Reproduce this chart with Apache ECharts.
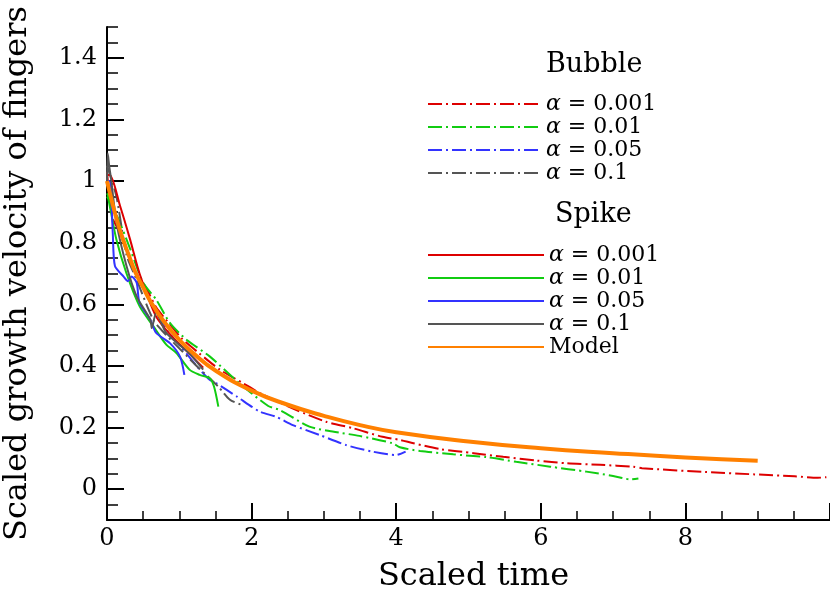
<!DOCTYPE html>
<html>
<head>
<meta charset="utf-8">
<script src="https://cdn.jsdelivr.net/npm/echarts@6/dist/echarts.min.js"></script>
<style>html,body{margin:0;padding:0;background:#fff}#c{width:830px;height:596px}</style>
</head>
<body>
<div id="c"></div>
<script>
// ---- data ----
const xTickLabels = ['0', '2', '4', '6', '8'];
const yTickLabels = ['0', '0.2', '0.4', '0.6', '0.8', '1', '1.2', '1.4'];
const bubbleNames = ['Bubble α = 0.001', 'Bubble α = 0.01', 'Bubble α = 0.05', 'Bubble α = 0.1'];
const spikeNames = ['Spike α = 0.001', 'Spike α = 0.01', 'Spike α = 0.05', 'Spike α = 0.1', 'Model'];

const bubble001 = [[0,1.03],[0.08,0.88],[0.23,0.81],[0.36,0.72],[0.55,0.65],[0.68,0.59],[0.87,0.535],[1.03,0.49],[1.28,0.44],[1.56,0.388],[1.88,0.344],[2.13,0.31],[2.62,0.257],[3.03,0.219],[3.40,0.198],[3.81,0.17],[4.05,0.16],[4.24,0.149],[4.61,0.13],[5.07,0.117],[5.48,0.105],[5.94,0.093],[6.36,0.084],[6.82,0.079],[7.28,0.073],[7.40,0.068],[8.27,0.056],[8.96,0.048],[9.51,0.042],[9.83,0.037],[9.95,0.039]];
const bubble01 = [[0,0.96],[0.17,0.87],[0.32,0.78],[0.5,0.67],[0.68,0.615],[0.87,0.54],[1.1,0.485],[1.42,0.431],[1.83,0.344],[2.23,0.27],[2.39,0.257],[2.8,0.203],[3.12,0.187],[3.49,0.173],[3.95,0.149],[4.05,0.136],[4.33,0.124],[4.79,0.113],[5.25,0.104],[5.66,0.089],[6.13,0.073],[6.63,0.057],[7.0,0.043],[7.24,0.032],[7.35,0.035]];
const bubble05 = [[0,1.0],[0.2,0.82],[0.41,0.70],[0.62,0.60],[0.82,0.52],[1.03,0.46],[1.24,0.40],[1.42,0.355],[1.51,0.344],[1.8,0.30],[2.11,0.252],[2.34,0.235],[2.57,0.208],[2.94,0.176],[3.31,0.143],[3.67,0.122],[4.0,0.111],[4.13,0.122]];
const bubble1 = [[0,1.05],[0.13,0.95],[0.27,0.76],[0.41,0.68],[0.64,0.55],[0.82,0.5],[1.03,0.45],[1.24,0.40],[1.42,0.36],[1.55,0.33],[1.7,0.29],[1.86,0.274]];
const spike001 = [[0,1.02],[0.04,1.02],[0.18,0.92],[0.32,0.81],[0.45,0.70],[0.68,0.56],[0.92,0.49],[1.14,0.44],[1.33,0.394]];
const spike01 = [[0,0.95],[0.02,0.94],[0.13,0.81],[0.27,0.70],[0.45,0.594],[0.64,0.529],[0.82,0.469],[0.96,0.442],[1.14,0.388],[1.28,0.371],[1.42,0.36],[1.48,0.333],[1.54,0.268]];
const spike05 = [[0,1.0],[0.04,1.0],[0.08,0.83],[0.11,0.724],[0.23,0.69],[0.29,0.675],[0.34,0.69],[0.41,0.67],[0.45,0.605],[0.6,0.55],[0.68,0.507],[0.87,0.474],[1.01,0.43],[1.07,0.371]];
const spike1 = [[0,1.0],[0.01,1.09],[0.03,1.05],[0.06,1.0],[0.13,0.866],[0.27,0.724],[0.41,0.626],[0.6,0.55],[0.62,0.523],[0.68,0.573],[0.82,0.507],[1.14,0.44],[1.33,0.388]];
const modelT = [0,0.1,0.2,0.3,0.4,0.5,0.6,0.8,1.0,1.2,1.5,2,2.5,3,3.5,4,5,6,7,8,9];
const modelV = [1.0,0.905,0.825,0.76,0.70,0.655,0.61,0.54,0.485,0.44,0.385,0.32,0.274,0.238,0.208,0.185,0.155,0.133,0.117,0.103,0.092];

// ---- styling ----
const FONT = 'DejaVu Serif';
const colors = { red: '#dd0000', green: '#11cc11', blue: '#3333ff', gray: '#555555', orange: '#ff8000' };
const dashDot = [14, 4, 2, 4];

function mk(name, data, color, dashed, width) {
  return {
    name: name, type: 'line', data: data, xAxisIndex: 0, yAxisIndex: 0,
    symbol: 'none', smooth: 0.25, animation: false,
    lineStyle: { color: color, width: width, type: dashed ? dashDot : 'solid' },
    itemStyle: { color: color }
  };
}
const modelData = modelT.map((t, i) => [t, modelV[i]]);

const series = [
  mk(bubbleNames[0], bubble001, colors.red, true, 2),
  mk(bubbleNames[1], bubble01, colors.green, true, 2),
  mk(bubbleNames[2], bubble05, colors.blue, true, 2),
  mk(bubbleNames[3], bubble1, colors.gray, true, 2),
  mk(spikeNames[0], spike001, colors.red, false, 2),
  mk(spikeNames[1], spike01, colors.green, false, 2),
  mk(spikeNames[2], spike05, colors.blue, false, 2),
  mk(spikeNames[3], spike1, colors.gray, false, 2),
  Object.assign(mk(spikeNames[4], modelData, colors.orange, false, 4), { smooth: true })
];

const legendFmt = function (name) {
  if (name === 'Model') return 'Model';
  const v = name.split('= ')[1];
  return '{i|α} = ' + v;
};
const legendText = { fontFamily: FONT, fontSize: 22, color: '#000', lineHeight: 23,
  rich: { i: { fontFamily: FONT, fontStyle: 'italic', fontSize: 22 } } };

const axisLineStyle = { color: '#000', width: 2 };

const option = {
  backgroundColor: '#fff',
  animation: false,
  grid: [
    { left: 107, right: 0, top: 27, bottom: 76, containLabel: false, outerBoundsMode: 'none' },
    { left: 107, right: 0, top: 57.8125, bottom: 106.8125, containLabel: false, outerBoundsMode: 'none' }
  ],
  xAxis: [
    { type: 'value', gridIndex: 0, min: 0, max: 10, interval: 0.5, position: 'bottom',
      axisLine: { show: true, onZero: false, lineStyle: axisLineStyle },
      axisTick: { show: true, inside: true, length: 9, lineStyle: { color: '#000', width: 1.5 } },
      axisLabel: { show: false }, splitLine: { show: false } },
    { type: 'value', gridIndex: 0, min: 0, max: 10, interval: 2, position: 'bottom',
      axisLine: { show: false, onZero: false },
      axisTick: { show: true, inside: true, length: 17, lineStyle: { color: '#000', width: 2 } },
      axisLabel: { show: true, margin: 7, fontFamily: FONT, fontSize: 24, color: '#000',
        formatter: function (v) { const i = Math.round(v / 2); return (i < xTickLabels.length && Math.abs(v - i * 2) < 1e-6) ? xTickLabels[i] : ''; } },
      splitLine: { show: false },
      name: 'Scaled time', nameLocation: 'middle', nameGap: 41,
      nameTextStyle: { fontFamily: FONT, fontSize: 32, color: '#000', padding: [0, 0, 0, 10] } },
    { type: 'value', gridIndex: 1, min: 0, max: 10, show: false }
  ],
  yAxis: [
    { type: 'value', gridIndex: 0, min: -0.1, max: 1.5, interval: 0.05,
      axisLine: { show: true, onZero: false, lineStyle: axisLineStyle },
      axisTick: { show: true, inside: true, length: 11, lineStyle: { color: '#000', width: 1.5 } },
      axisLabel: { show: false }, splitLine: { show: false },
      name: 'Scaled growth velocity of fingers', nameLocation: 'middle', nameGap: 73,
      nameTextStyle: { fontFamily: FONT, fontSize: 32, color: '#000' } },
    { type: 'value', gridIndex: 1, min: 0, max: 1.4, interval: 0.2,
      axisLine: { show: false, onZero: false },
      axisTick: { show: true, inside: true, length: 17, lineStyle: { color: '#000', width: 2 } },
      axisLabel: { show: true, margin: 10, fontFamily: FONT, fontSize: 24, color: '#000',
        formatter: function (v) { const i = Math.round(v / 0.2); return yTickLabels[i] || ''; } },
      splitLine: { show: false } }
  ],
  legend: [
    { data: bubbleNames, orient: 'vertical', left: 427, top: 92.5, padding: 0,
      itemWidth: 113, itemHeight: 23, itemGap: 0, formatter: legendFmt, textStyle: legendText,
      itemStyle: { opacity: 0 }, selectedMode: false },
    { data: spikeNames, orient: 'vertical', left: 427, top: 243.5, padding: 0,
      itemWidth: 116, itemHeight: 23, itemGap: 0, formatter: legendFmt, textStyle: legendText,
      itemStyle: { opacity: 0 }, selectedMode: false }
  ],
  graphic: [
    { type: 'text', left: 546, top: 51, style: { text: 'Bubble', fontFamily: FONT, fontSize: 27, fill: '#000' } },
    { type: 'text', left: 555, top: 201, style: { text: 'Spike', fontFamily: FONT, fontSize: 27, fill: '#000' } }
  ],
  series: series
};

const chart = echarts.init(document.getElementById('c'), null, { renderer: 'canvas' });
chart.setOption(option);
</script>
</body>
</html>
